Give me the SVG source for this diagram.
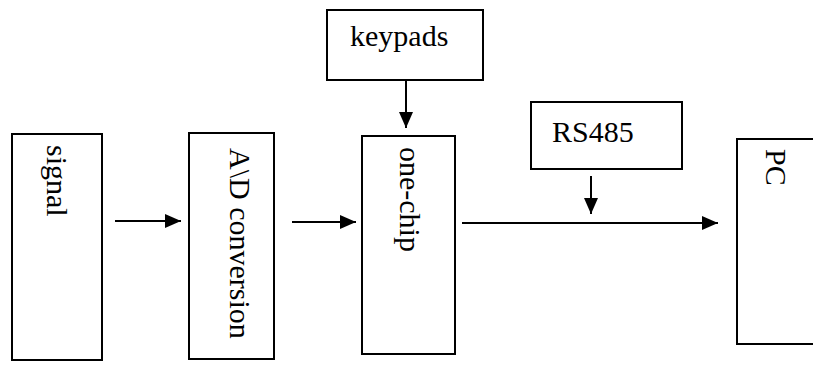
<svg xmlns="http://www.w3.org/2000/svg" width="813" height="365" viewBox="0 0 813 365">
  <defs>
    <style>
      .box { fill: #ffffff; stroke: #000000; stroke-width: 2; }
      .lbl { font-family: "Liberation Serif", "Times New Roman", serif; font-size: 30px; fill: #000000; }
      .wire { stroke: #000000; stroke-width: 2; fill: none; marker-end: url(#head); }
    </style>
    <marker id="head" viewBox="0 0 16 14" refX="16" refY="7" markerWidth="16" markerHeight="14" markerUnits="userSpaceOnUse" orient="auto">
      <path d="M0,0 L16,7 L0,14 Z" fill="#000000"/>
    </marker>
  </defs>
  <rect width="813" height="365" fill="#ffffff"/>

  <g id="signal">
    <rect class="box" x="12" y="134" width="90" height="226"/>
    <text class="lbl" transform="translate(47,145) rotate(90)">signal</text>
  </g>

  <g id="ad-conversion">
    <rect class="box" x="189" y="133" width="85" height="226"/>
    <text class="lbl" transform="translate(230,148) rotate(90)">A\D conversion</text>
  </g>

  <g id="keypads">
    <rect class="box" x="327" y="10" width="156" height="70"/>
    <text class="lbl" x="350" y="46">keypads</text>
  </g>

  <g id="one-chip">
    <rect class="box" x="362" y="136" width="93" height="218"/>
    <text class="lbl" transform="translate(400,147) rotate(90)">one-chip</text>
  </g>

  <g id="rs485">
    <rect class="box" x="531" y="102" width="151" height="67"/>
    <text class="lbl" x="552" y="142">RS485</text>
  </g>

  <g id="pc">
    <rect class="box" x="737" y="139" width="90" height="205"/>
    <text class="lbl" transform="translate(766,149) rotate(90)">PC</text>
  </g>

  <g id="connectors">
    <line class="wire" x1="115" y1="221" x2="181" y2="221"/>
    <line class="wire" x1="292" y1="222" x2="356" y2="222"/>
    <line class="wire" x1="406" y1="80" x2="406" y2="128"/>
    <line class="wire" x1="462" y1="223" x2="718" y2="223"/>
    <line class="wire" x1="591" y1="176" x2="591" y2="214"/>
  </g>
</svg>
